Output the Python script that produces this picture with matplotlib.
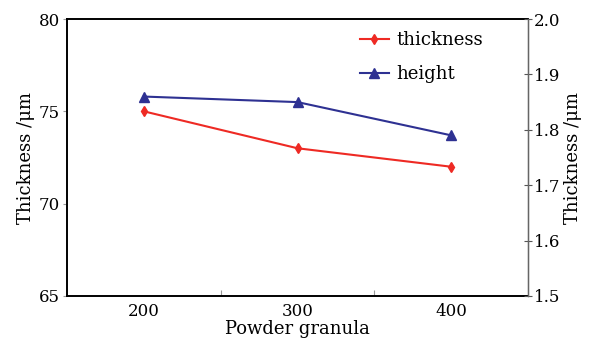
import matplotlib
matplotlib.use("Agg")
import matplotlib.pyplot as plt

granula = [200, 300, 400]
thickness = [75, 73, 72]
height = [1.86, 1.85, 1.79]
left_ticks = [65, 70, 75, 80]
right_ticks = [1.5, 1.6, 1.7, 1.8, 1.9, 2.0]

plt.rcParams['font.family'] = ['DejaVu Serif']
fs_tick = 12
fs = 13

fig = plt.figure(figsize=(5.96, 3.45), dpi=100)
ax = fig.add_axes([67/596, 1-296/345, (528-67)/596, (296-19)/345])
ax2 = ax.twinx()

l1, = ax.plot(granula, thickness, color='#ee2a24', lw=1.5, marker='d', ms=5.5, label='thickness')
l2, = ax2.plot(granula, height, color='#2e3192', lw=1.5, marker='^', ms=6.5, label='height')

ax.set_xlim(150, 450)
ax.set_ylim(65, 80)
ax2.set_ylim(1.5, 2.0)
ax.set_xticks(granula)
ax.set_xticks([250, 350], minor=True)
ax.set_yticks(left_ticks)
ax2.set_yticks(right_ticks)
ax2.set_yticklabels([f"{v:.1f}" for v in right_ticks])

ax.tick_params(axis='x', which='major', length=0, labelsize=fs_tick, pad=5)
ax.tick_params(axis='x', which='minor', direction='in', length=4, color='#999999', width=0.8)
ax.tick_params(axis='y', direction='out', length=3, color='#999999', width=0.8, labelsize=fs_tick, pad=2)
ax2.tick_params(axis='y', direction='inout', length=6, color='#555555', width=0.8, labelsize=fs_tick, pad=1)

for s in ['left', 'top', 'bottom']:
    ax.spines[s].set_linewidth(1.4)
ax2.spines['right'].set_color('#666666')
ax2.spines['right'].set_linewidth(1.0)
for s in ['left', 'top', 'bottom']:
    ax2.spines[s].set_visible(False)

ax.set_xlabel('Powder granula', fontsize=fs, labelpad=0)
ax.set_ylabel('Thickness /μm', fontsize=fs, labelpad=3)
ax2.set_ylabel('Thickness /μm', fontsize=fs, labelpad=3)

ax.legend([l1, l2], ['thickness', 'height'], frameon=False, fontsize=fs,
          loc='upper left', bbox_to_anchor=(0.6, 1.015), handlelength=1.6,
          handletextpad=0.4, labelspacing=0.9)

fig.savefig('out.png', dpi=100)
